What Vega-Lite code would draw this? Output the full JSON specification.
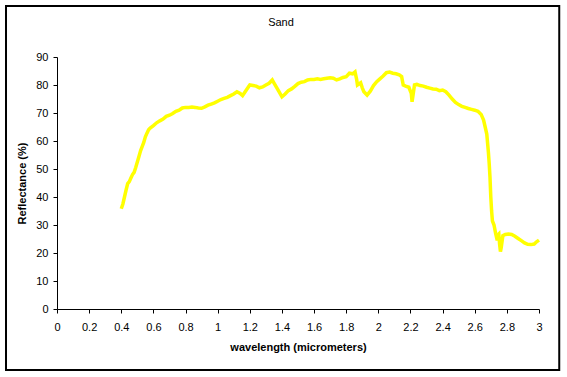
{
  "$schema": "https://vega.github.io/schema/vega-lite/v6.json",
  "width": 482,
  "height": 252,
  "autosize": {"type": "none"},
  "padding": {"left": 57, "top": 57, "right": 28, "bottom": 68},
  "background": "white",
  "title": {"text": "Sand", "font": "Liberation Sans", "fontSize": 11, "fontWeight": "normal", "color": "black", "offset": -23, "dx": -17},
  "config": {
    "view": {"stroke": null},
    "axis": {"grid": false, "domainColor": "black", "tickColor": "black", "labelColor": "black", "titleColor": "black", "labelFont": "Liberation Sans", "titleFont": "Liberation Sans", "labelFontSize": 11, "titleFontSize": 11, "titleFontWeight": "bold", "tickSize": 4, "labelOverlap": false},
    "axisX": {"labelPadding": 8, "titlePadding": 9, "labelFlush": false},
    "axisY": {"labelPadding": 5, "titlePadding": 8}
  },
  "layer": [
    {
      "data": {"values": [
        {"wl":0.40,"r":35.8},{"wl":0.41,"r":37.5},{"wl":0.42,"r":40},{"wl":0.43,"r":42.5},{"wl":0.44,"r":44.8},{"wl":0.45,"r":45.5},{"wl":0.46,"r":46.8},{"wl":0.47,"r":48},{"wl":0.48,"r":48.8},{"wl":0.49,"r":50.5},{"wl":0.50,"r":52.5},{"wl":0.51,"r":54.5},{"wl":0.52,"r":56.5},{"wl":0.53,"r":58},{"wl":0.54,"r":59.5},{"wl":0.55,"r":61.5},{"wl":0.56,"r":62.8},{"wl":0.57,"r":64},{"wl":0.58,"r":64.6},{"wl":0.60,"r":65.5},{"wl":0.62,"r":66.5},{"wl":0.64,"r":67.2},{"wl":0.66,"r":67.8},{"wl":0.68,"r":68.8},{"wl":0.70,"r":69.2},{"wl":0.72,"r":69.8},{"wl":0.74,"r":70.6},{"wl":0.76,"r":71},{"wl":0.78,"r":71.8},{"wl":0.80,"r":72},{"wl":0.82,"r":72},{"wl":0.84,"r":72.1},{"wl":0.86,"r":72},{"wl":0.88,"r":71.8},{"wl":0.90,"r":71.7},{"wl":0.92,"r":72.2},{"wl":0.94,"r":72.8},{"wl":0.96,"r":73.2},{"wl":0.98,"r":73.6},{"wl":1.00,"r":74.2},{"wl":1.02,"r":74.8},{"wl":1.04,"r":75.2},{"wl":1.06,"r":75.6},{"wl":1.08,"r":76.2},{"wl":1.10,"r":76.8},{"wl":1.12,"r":77.6},{"wl":1.14,"r":77},{"wl":1.155,"r":76.2},{"wl":1.17,"r":77.5},{"wl":1.19,"r":79.2},{"wl":1.20,"r":80},{"wl":1.22,"r":79.8},{"wl":1.24,"r":79.6},{"wl":1.26,"r":79},{"wl":1.28,"r":79.3},{"wl":1.30,"r":80},{"wl":1.32,"r":80.6},{"wl":1.34,"r":81.8},{"wl":1.35,"r":80.8},{"wl":1.36,"r":79.8},{"wl":1.38,"r":77.8},{"wl":1.40,"r":75.8},{"wl":1.42,"r":76.8},{"wl":1.44,"r":78},{"wl":1.46,"r":78.6},{"wl":1.48,"r":79.5},{"wl":1.50,"r":80.5},{"wl":1.52,"r":81},{"wl":1.54,"r":81.2},{"wl":1.56,"r":81.8},{"wl":1.58,"r":82},{"wl":1.60,"r":82},{"wl":1.62,"r":82.2},{"wl":1.64,"r":82},{"wl":1.66,"r":82.2},{"wl":1.68,"r":82.4},{"wl":1.70,"r":82.6},{"wl":1.72,"r":82.4},{"wl":1.74,"r":81.8},{"wl":1.76,"r":82.2},{"wl":1.78,"r":82.7},{"wl":1.80,"r":83},{"wl":1.82,"r":84.2},{"wl":1.84,"r":84},{"wl":1.855,"r":84.7},{"wl":1.865,"r":82},{"wl":1.87,"r":80},{"wl":1.89,"r":80.8},{"wl":1.90,"r":79},{"wl":1.91,"r":77.6},{"wl":1.93,"r":76.4},{"wl":1.95,"r":77.8},{"wl":1.97,"r":79.8},{"wl":1.99,"r":81.2},{"wl":2.01,"r":82.2},{"wl":2.03,"r":83.2},{"wl":2.05,"r":84.4},{"wl":2.07,"r":84.6},{"wl":2.09,"r":84.2},{"wl":2.11,"r":84},{"wl":2.13,"r":83.6},{"wl":2.145,"r":83},{"wl":2.155,"r":80},{"wl":2.17,"r":79.6},{"wl":2.19,"r":79.2},{"wl":2.205,"r":77},{"wl":2.21,"r":74},{"wl":2.215,"r":76},{"wl":2.225,"r":80},{"wl":2.24,"r":80.2},{"wl":2.26,"r":79.8},{"wl":2.28,"r":79.6},{"wl":2.30,"r":79.2},{"wl":2.32,"r":78.9},{"wl":2.34,"r":78.6},{"wl":2.36,"r":78.5},{"wl":2.38,"r":78},{"wl":2.40,"r":78.2},{"wl":2.42,"r":77.6},{"wl":2.44,"r":76.4},{"wl":2.46,"r":75},{"wl":2.48,"r":73.8},{"wl":2.50,"r":73},{"wl":2.52,"r":72.4},{"wl":2.54,"r":72},{"wl":2.56,"r":71.6},{"wl":2.58,"r":71.3},{"wl":2.60,"r":71},{"wl":2.62,"r":70.6},{"wl":2.64,"r":69.5},{"wl":2.655,"r":67.5},{"wl":2.665,"r":65},{"wl":2.675,"r":62.5},{"wl":2.685,"r":56},{"wl":2.69,"r":52},{"wl":2.695,"r":47},{"wl":2.70,"r":40},{"wl":2.705,"r":35},{"wl":2.71,"r":31.5},{"wl":2.72,"r":30},{"wl":2.73,"r":27},{"wl":2.74,"r":24.5},{"wl":2.745,"r":26.5},{"wl":2.75,"r":26.8},{"wl":2.755,"r":23},{"wl":2.76,"r":20.5},{"wl":2.765,"r":22},{"wl":2.775,"r":26.2},{"wl":2.79,"r":26.6},{"wl":2.81,"r":26.8},{"wl":2.83,"r":26.6},{"wl":2.85,"r":26},{"wl":2.87,"r":25.2},{"wl":2.89,"r":24.4},{"wl":2.91,"r":23.6},{"wl":2.93,"r":23.1},{"wl":2.95,"r":23},{"wl":2.97,"r":23.2},{"wl":2.985,"r":24},{"wl":3.00,"r":24.6}
      ]},
      "mark": {"type": "line", "color": "#FFFF00", "strokeWidth": 3.5},
      "encoding": {
        "x": {"field": "wl", "type": "quantitative", "scale": {"domain": [0, 3], "nice": false, "zero": false}, "axis": {"title": "wavelength (micrometers)", "values": [0,0.2,0.4,0.6,0.8,1,1.2,1.4,1.6,1.8,2,2.2,2.4,2.6,2.8,3], "format": "~g"}},
        "y": {"field": "r", "type": "quantitative", "scale": {"domain": [0, 90], "nice": false, "zero": false}, "axis": {"title": "Reflectance (%)", "values": [0,10,20,30,40,50,60,70,80,90]}}
      }
    },
    {
      "data": {"values": [{"x1": -0.3174, "x2": 3.126, "y1": 108.2, "y2": -21.8}]},
      "mark": {"type": "rect", "filled": false, "stroke": "black", "strokeWidth": 2, "clip": false},
      "encoding": {
        "x": {"field": "x1", "type": "quantitative", "scale": {"domain": [0, 3], "nice": false, "zero": false}, "axis": {"title": "wavelength (micrometers)", "values": [0,0.2,0.4,0.6,0.8,1,1.2,1.4,1.6,1.8,2,2.2,2.4,2.6,2.8,3], "format": "~g"}},
        "x2": {"field": "x2"},
        "y": {"field": "y1", "type": "quantitative", "scale": {"domain": [0, 90], "nice": false, "zero": false}, "axis": {"title": "Reflectance (%)", "values": [0,10,20,30,40,50,60,70,80,90]}},
        "y2": {"field": "y2"}
      }
    }
  ]
}
